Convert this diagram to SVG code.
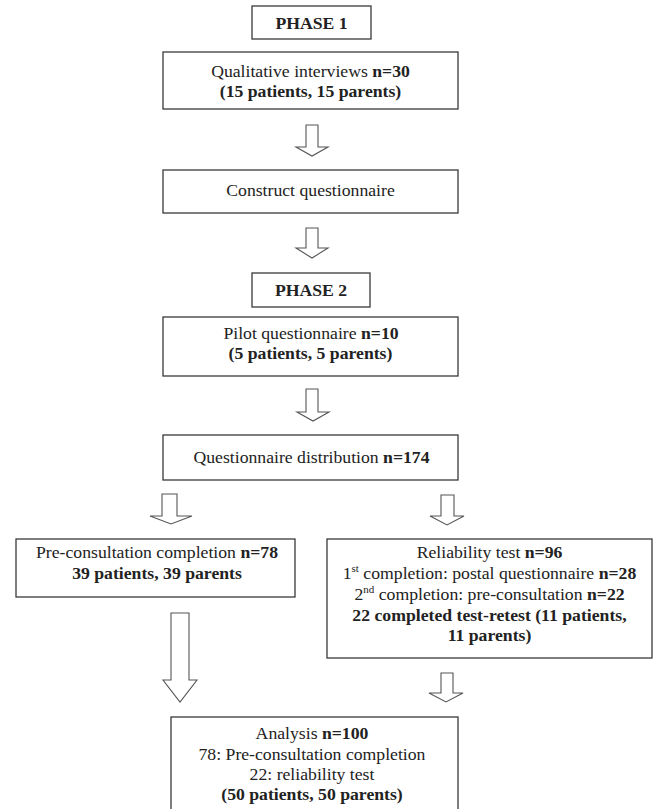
<svg xmlns="http://www.w3.org/2000/svg" width="654" height="809" viewBox="0 0 654 809">
<style>
.box{fill:#fff;stroke:#3a3a3a;stroke-width:1.3}
.arr{fill:#fff;stroke:#555;stroke-width:1.1;stroke-linejoin:miter}
text{font-family:"Liberation Serif","Times New Roman",serif;font-size:17.7px;fill:#222;text-anchor:middle}
.b{font-weight:bold}
.sup{font-size:11px}
</style>
<rect width="654" height="809" fill="#fff"/>
<g id="connectors">
<path class="arr" d="M306,125 H318 V147 H328 L312,156 L296,147 H306 Z"/>
<path class="arr" d="M306,228 H318 V248 H328 L312,258 L296,248 H306 Z"/>
<path class="arr" d="M306,389 H318 V412 H329 L313,421 L297,412 H306 Z"/>
<path class="arr" d="M162,494 H177 V516 H192 L171,524 L150,516 H162 Z"/>
<path class="arr" d="M441,495 H454 V516 H464 L447,525 L430,516 H441 Z"/>
<path class="arr" d="M171,613 H189 V680 H197 L180,702 L163,680 H171 Z"/>
<path class="arr" d="M441,673 H453 V693 H463 L446,702 L429,693 H441 Z"/>
</g>
<g id="phase1">
<rect class="box" x="252" y="6" width="119" height="33"/>
<text class="b" x="311.5" y="29">PHASE 1</text>
</g>
<g id="qualitative">
<rect class="box" x="163" y="52" width="295" height="57"/>
<text x="310.5" y="77">Qualitative interviews <tspan class="b">n=30</tspan></text>
<text class="b" x="310.5" y="97">(15 patients, 15 parents)</text>
</g>
<g id="construct">
<rect class="box" x="163" y="170" width="295" height="43"/>
<text x="310.5" y="196">Construct questionnaire</text>
</g>
<g id="phase2">
<rect class="box" x="252" y="273" width="118" height="34"/>
<text class="b" x="311" y="296">PHASE 2</text>
</g>
<g id="pilot">
<rect class="box" x="163" y="317" width="295" height="59"/>
<text x="311" y="339">Pilot questionnaire <tspan class="b">n=10</tspan></text>
<text class="b" x="310.5" y="359">(5 patients, 5 parents)</text>
</g>
<g id="distribution">
<rect class="box" x="163" y="435" width="295" height="45"/>
<text x="311.5" y="463">Questionnaire distribution <tspan class="b">n=174</tspan></text>
</g>
<g id="preconsultation">
<rect class="box" x="16" y="539" width="279" height="58"/>
<text x="157" y="558">Pre-consultation completion <tspan class="b">n=78</tspan></text>
<text class="b" x="157" y="579">39 patients, 39 parents</text>
</g>
<g id="reliability">
<rect class="box" x="327" y="539" width="325" height="119"/>
<text x="489.5" y="558">Reliability test <tspan class="b">n=96</tspan></text>
<text x="489.5" y="579">1<tspan class="sup" dy="-7">st</tspan><tspan dy="7"> completion: postal questionnaire </tspan><tspan class="b">n=28</tspan></text>
<text x="489.5" y="600">2<tspan class="sup" dy="-7">nd</tspan><tspan dy="7"> completion: pre-consultation </tspan><tspan class="b">n=22</tspan></text>
<text class="b" x="489.5" y="620.5">22 completed test-retest (11 patients,</text>
<text class="b" x="489.5" y="641">11 parents)</text>
</g>
<g id="analysis">
<rect class="box" x="171" y="717" width="287" height="100"/>
<text x="312" y="739">Analysis <tspan class="b">n=100</tspan></text>
<text x="312" y="760">78: Pre-consultation completion</text>
<text x="312" y="780">22: reliability test</text>
<text class="b" x="312" y="800">(50 patients, 50 parents)</text>
</g>
</svg>
